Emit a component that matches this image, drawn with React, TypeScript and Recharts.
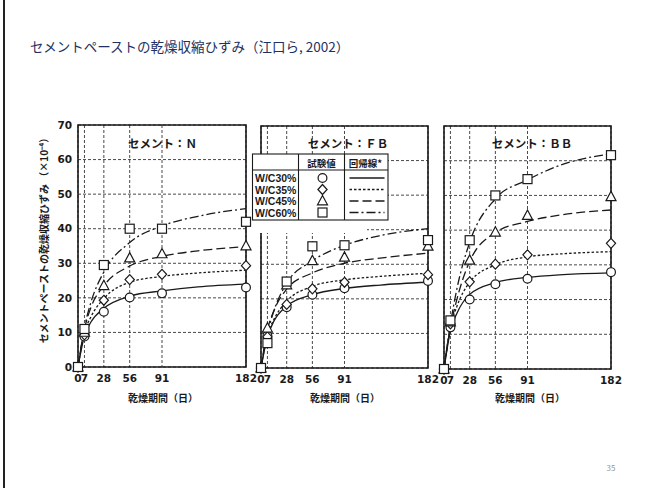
import React from 'react';
import { ComposedChart, Line, Scatter, XAxis, YAxis, CartesianGrid, ReferenceArea } from 'recharts';

// 乾燥期間（日）
const curveDays = [0, 7, 14, 28, 56, 91, 130, 182];
const testDays = [0, 7, 28, 56, 91, 182];
const dayTicks = [0, 7, 28, 56, 91, 182];
const strainTicks = [0, 10, 20, 30, 40, 50, 60, 70];
const mixLabels = ['W/C30%', 'W/C35%', 'W/C45%', 'W/C60%'];

// セメント：N  回帰線 / 試験値
const nFit30 = [0, 9, 13, 17, 20.5, 22, 23.2, 24];
const nFit35 = [0, 10, 14.5, 19.8, 24.5, 26.2, 27.2, 28];
const nFit45 = [0, 11, 17.2, 23.5, 29.2, 32, 33.6, 34.8];
const nFit60 = [0, 11.4, 18.7, 27.5, 36, 40.8, 43.6, 45.8];
const nTest30 = [0, 8.8, 16, 20.1, 21.3, 23];
const nTest35 = [0, 9.3, 19.3, 25.3, 26.8, 29.3];
const nTest45 = [0, 10, 23.5, 31.5, 32.7, 35];
const nTest60 = [0, 11, 29.5, 40, 40, 42];

// セメント：FB
const fbFit30 = [0, 9, 13.5, 17.9, 21.2, 23, 24, 24.8];
const fbFit35 = [0, 9.5, 14, 19.3, 23.6, 25.5, 26.5, 27.4];
const fbFit45 = [0, 11, 16.5, 22.8, 27.5, 30.3, 31.8, 33.2];
const fbFit60 = [0, 10, 16.5, 24.5, 31, 35.5, 38.3, 40.3];
const fbTest30 = [0, 9.3, 17.6, 21.2, 23.1, 25.2];
const fbTest35 = [0, 9, 18.4, 22.9, 24.8, 27];
const fbTest45 = [0, 11.5, 24, 31, 32, 35.2];
const fbTest60 = [0, 7.2, 25, 35.2, 35.5, 37];

// セメント：BB
const bbFit30 = [0, 11, 16, 21.5, 24.9, 26.4, 27.2, 27.7];
const bbFit35 = [0, 12, 18, 25, 30, 32.3, 33.2, 33.8];
const bbFit45 = [0, 12, 20, 31, 39.3, 42.5, 44.5, 45.8];
const bbFit60 = [0, 13, 23, 36.5, 49, 54.5, 59, 62];
const bbTest30 = [0, 12, 20, 24.4, 26, 27.9];
const bbTest35 = [0, 13, 25.1, 30.2, 32.9, 36.2];
const bbTest45 = [0, 13.5, 31.3, 39.4, 44.2, 49.6];
const bbTest60 = [0, 14, 37.1, 50, 54.7, 61.6];

const INK = '#1a1a1a';
const NUM = '"DejaVu Sans", sans-serif';
const LAB = '"Liberation Sans", Arial, sans-serif';
const JP = '"Noto Sans CJK JP", sans-serif';

const series = [
  { key: 'c30', mark: 'circle', dash: undefined },
  { key: 'c35', mark: 'diamond', dash: '2.5 2' },
  { key: 'c45', mark: 'triangle', dash: '9 4' },
  { key: 'c60', mark: 'square', dash: '9 3 2 3' },
];

const Mark = ({ kind, cx, cy }: { kind: string; cx: number; cy: number }) => {
  const p = { fill: '#fff', stroke: INK, strokeWidth: 1.2 };
  if (kind === 'circle') return <circle cx={cx} cy={cy} r={4.4} {...p} />;
  if (kind === 'diamond')
    return <path d={`M${cx},${cy - 5}L${cx + 4.6},${cy}L${cx},${cy + 5}L${cx - 4.6},${cy}Z`} {...p} />;
  if (kind === 'triangle')
    return <path d={`M${cx},${cy - 5.5}L${cx + 5},${cy + 3.8}L${cx - 5},${cy + 3.8}Z`} {...p} />;
  return <rect x={cx - 4.5} y={cy - 4.5} width={9} height={9} {...p} />;
};

type PanelProps = { fits: number[][]; tests: number[][]; x: number; y: number; w: number; h: number; withY?: boolean };

const Panel = ({ fits, tests, x, y, w, h, withY }: PanelProps) => {
  const yW = withY ? 36 : 0;
  const padL = withY ? 0 : 8;
  const rows = curveDays.map((t, i) => ({ t, c30: fits[0][i], c35: fits[1][i], c45: fits[2][i], c60: fits[3][i] }));
  const tick = { fontSize: 10.5, fontWeight: 700, fill: INK, fontFamily: NUM };
  return (
    <div style={{ position: 'absolute', left: x - yW - padL, top: y - 8 }}>
      <ComposedChart width={w + yW + padL + 12} height={h + 8 + 26} data={rows}
        margin={{ top: 8, right: 12, left: padL, bottom: 0 }}>
        <CartesianGrid stroke={INK} strokeWidth={0.8} strokeDasharray="3 2" />
        <XAxis dataKey="t" type="number" domain={[0, 182]} ticks={dayTicks} interval={0}
          axisLine={false} tickLine={false} height={26} tick={tick} />
        <YAxis type="number" domain={[0, 70]} ticks={strainTicks} interval={0} hide={!withY} width={yW || 1}
          axisLine={false} tickLine={false} tickSize={4} tick={tick} />
        <ReferenceArea x1={0} x2={182} y1={0} y2={70} fill="none" stroke={INK} strokeWidth={1.6} />
        {series.map((s) => (
          <Line key={s.key} dataKey={s.key} type="monotone" stroke={INK} strokeWidth={1.3}
            strokeDasharray={s.dash} dot={false} activeDot={false} isAnimationActive={false} />
        ))}
        {series.map((s, k) => (
          <Scatter key={'p' + s.key} data={testDays.map((t, i) => ({ t, v: tests[k][i] }))} dataKey="v"
            isAnimationActive={false}
            shape={(p: any) => <Mark kind={s.mark} cx={p.cx} cy={p.cy} />} />
        ))}
      </ComposedChart>
    </div>
  );
};

const Legend = () => {
  const rowsY = [24, 35.5, 47, 58.5];
  return (
    <g transform="translate(252.5,154)">
      <rect x={-0.5} y={66} width={115} height={13} fill="#fff" />
      <rect x={0} y={0} width={135.5} height={66} fill="#fff" stroke={INK} strokeWidth={1.1} />
      <line x1={0} x2={135.5} y1={16} y2={16} stroke={INK} strokeWidth={1.1} />
      <line x1={46} x2={46} y1={0} y2={66} stroke={INK} strokeWidth={1.1} />
      <line x1={92} x2={92} y1={0} y2={66} stroke={INK} strokeWidth={1.1} />
      <text x={69} y={9} textAnchor="middle" dominantBaseline="central" fontSize={9.5} fontWeight={700} fontFamily={JP} fill={INK}>試験値</text>
      <text x={113} y={9} textAnchor="middle" dominantBaseline="central" fontSize={9.5} fontWeight={700} fontFamily={JP} fill={INK}>回帰線*</text>
      {mixLabels.map((m, i) => (
        <g key={m}>
          <text x={2.5} y={rowsY[i]} dominantBaseline="central" fontSize={10.5} fontWeight={700} fontFamily={LAB} fill={INK}>{m}</text>
          <Mark kind={series[i].mark} cx={70} cy={rowsY[i]} />
          <line x1={97} x2={132} y1={rowsY[i]} y2={rowsY[i]} stroke={INK} strokeWidth={1.3} strokeDasharray={series[i].dash} />
        </g>
      ))}
    </g>
  );
};

const App = () => {
  const jpBold = { fontFamily: JP, fontWeight: 700, fill: INK } as const;
  return (
    <div style={{ position: 'absolute', left: 0, top: 0, width: 649, height: 488, background: '#fff', overflow: 'hidden' }}>
      <Panel fits={[nFit30, nFit35, nFit45, nFit60]} tests={[nTest30, nTest35, nTest45, nTest60]} x={78} y={125} w={168} h={242} withY />
      <Panel fits={[fbFit30, fbFit35, fbFit45, fbFit60]} tests={[fbTest30, fbTest35, fbTest45, fbTest60]} x={261} y={126} w={167} h={242} />
      <Panel fits={[bbFit30, bbFit35, bbFit45, bbFit60]} tests={[bbTest30, bbTest35, bbTest45, bbTest60]} x={444} y={126} w={167} h={243} />
      <svg width={649} height={488} style={{ position: 'absolute', left: 0, top: 0, pointerEvents: 'none' }}>
        <rect x={3} y={0} width={2} height={488} fill="#222" />
        <text x={30} y={46} dominantBaseline="central" fontSize={13.5} fontFamily={JP} fill="#1f3160">
          セメントペーストの乾燥収縮ひずみ（江口ら, 2002）
        </text>
        <text transform="translate(43,238) rotate(-90)" textAnchor="middle" dominantBaseline="central" fontSize={10} {...jpBold}>
          セメントペーストの乾燥収縮ひずみ （×10⁻⁴）
        </text>
        <text x={162.5} y={143} textAnchor="middle" dominantBaseline="central" fontSize={11.5} {...jpBold}>セメント：Ｎ</text>
        <text x={348} y={143} textAnchor="middle" dominantBaseline="central" fontSize={11.5} {...jpBold}>セメント：ＦＢ</text>
        <text x={532} y={143} textAnchor="middle" dominantBaseline="central" fontSize={11.5} {...jpBold}>セメント：ＢＢ</text>
        <text x={163} y={397} textAnchor="middle" dominantBaseline="central" fontSize={10} {...jpBold}>乾燥期間（日）</text>
        <text x={345} y={397} textAnchor="middle" dominantBaseline="central" fontSize={10} {...jpBold}>乾燥期間（日）</text>
        <text x={530} y={397} textAnchor="middle" dominantBaseline="central" fontSize={10} {...jpBold}>乾燥期間（日）</text>
        <Legend />
        <text x={611} y={467} textAnchor="middle" dominantBaseline="central" fontSize={8} fontFamily={JP} fill="#999">35</text>
      </svg>
    </div>
  );
};

export default App;
